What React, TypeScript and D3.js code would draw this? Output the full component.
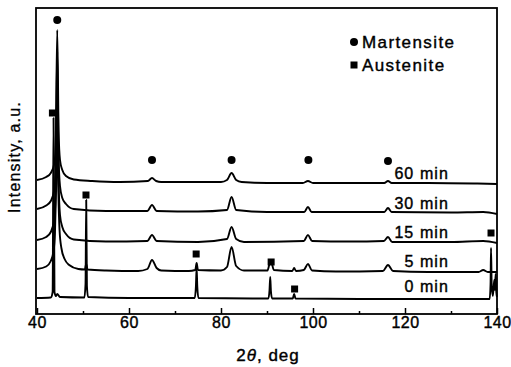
import React, { useEffect, useRef } from "react";
import * as d3 from "d3";

// XRD patterns, 2theta (deg) vs stacked intensity (a.u.)
const seriesNames = ["0 min", "5 min", "15 min", "30 min", "60 min"];

const min0: [number, number][] = [
  [40, 16], [43.0, 16.5], [43.4, 22], [43.6, 196], [43.8, 22], [44.1, 18], [44.4, 20], [45, 17],
  [50.3, 16.5], [50.55, 30], [50.7, 114], [50.85, 28], [51.1, 17], [60, 16],
  [74.3, 16], [74.55, 28], [74.7, 46], [74.85, 27], [75.1, 16],
  [90.3, 15.5], [90.55, 24], [90.7, 37], [90.85, 23], [91.1, 15.5],
  [95.6, 15.5], [95.9, 20], [96.2, 15.5], [110, 15], [130, 15], [138.4, 15],
  [138.6, 30], [138.7, 66], [138.85, 28], [139.1, 18], [139.4, 34], [139.55, 24], [139.7, 40],
  [139.85, 22], [140, 17],
];

const min5: [number, number][] = [
  [40, 45], [42, 47.5], [43, 53], [43.6, 63], [43.9, 80], [44.15, 125], [44.4, 200], [44.65, 122],
  [44.9, 84], [45.3, 66], [46, 55], [47, 49], [49, 45], [50.4, 44.5], [50.7, 50], [51, 44.5],
  [55, 43.5], [62, 43], [64.0, 45], [65, 54], [66.0, 46], [67, 43.5], [73, 43], [74.4, 44],
  [74.7, 51], [75, 44], [80, 43.5], [81.3, 47], [82.3, 67], [83.3, 48], [85, 43.5], [90.1, 43.5],
  [90.8, 54], [91.5, 44], [95.5, 43], [95.9, 46], [96.3, 43], [98.0, 44], [98.9, 50],
  [99.8, 43.5], [105, 42.5], [115.2, 43], [116.3, 49], [117.4, 43], [125, 42], [136, 42],
  [137, 44], [138, 42], [140, 42],
];

const min15: [number, number][] = [
  [40, 74], [42, 77], [43, 82], [43.8, 95], [44.1, 135], [44.4, 228], [44.7, 132], [45.0, 99],
  [45.5, 87], [46.3, 80], [48, 74.5], [55, 72.5], [64.0, 73], [65, 79], [66.0, 73], [75, 72],
  [81.3, 75], [82.3, 87], [83.3, 75], [85, 72], [98.0, 73], [98.9, 79], [99.8, 73], [108, 72.5],
  [115.4, 73], [116.3, 77], [117.2, 72], [130, 72], [137, 73], [140, 71],
];

const min30: [number, number][] = [
  [40, 105], [42, 108.5], [43, 113], [43.8, 125], [44.1, 160], [44.4, 262], [44.7, 156],
  [45.0, 128], [45.5, 116], [46.3, 110], [48, 105], [55, 103], [64.0, 103], [65, 109],
  [66.0, 103], [75, 102.5], [81.3, 104], [82.3, 117], [83.3, 104], [90, 102], [98.1, 102],
  [98.9, 107], [99.7, 102], [115.5, 102], [116.3, 106], [117.1, 102], [130, 101.5], [137, 102],
  [140, 100],
];

const min60: [number, number][] = [
  [40, 134], [42, 137], [43, 141], [43.8, 151], [44.1, 180], [44.4, 284], [44.7, 182],
  [45.0, 154], [45.5, 144], [46.3, 138], [48, 134.5], [52, 133], [58, 132], [64.1, 133],
  [65, 136], [65.9, 133], [67, 132], [80, 132], [81.3, 134], [82.3, 141], [83.3, 134],
  [84.5, 132], [90, 131], [97.8, 131], [98.9, 133], [100, 131], [110, 131], [115.5, 131],
  [116.3, 133], [117.1, 131], [125, 131], [135, 130.5], [140, 130],
];

const allSeries = [min0, min5, min15, min30, min60];

// phase markers [2theta, intensity]
const martensiteMarks: [number, number][] = [
  [44.4, 294], [65, 154], [82.3, 154], [99, 154], [116.3, 153],
];
const austeniteMarks: [number, number][] = [
  [43.35, 201], [50.65, 119], [74.6, 60], [90.9, 52], [96.0, 25], [138.7, 81],
];

const majorTicks = [40, 60, 80, 100, 120, 140];
const minorTicks = [50, 70, 90, 110, 130];

const W = 511;
const H = 367;
const FONT = "'Liberation Sans', Arial, Helvetica, sans-serif";

export default function App() {
  const ref = useRef<SVGSVGElement>(null);

  useEffect(() => {
    document.body.style.margin = "0";
    const svg = d3.select(ref.current);
    svg.selectAll("*").remove();

    const x = d3.scaleLinear().domain([40, 140]).range([37, 497]);
    const y = d3.scaleLinear().domain([0, 307]).range([314, 7]);

    // frame
    svg.append("rect")
      .attr("x", 36).attr("y", 8)
      .attr("width", 497 - 36).attr("height", 314 - 8)
      .attr("fill", "none").attr("stroke", "#000").attr("stroke-width", 1.8);

    // bottom axis, ticks pointing inward
    const major = svg.append("g")
      .attr("transform", "translate(0,314)")
      .call(d3.axisBottom(x).tickValues(majorTicks).tickSize(-6).tickPadding(3).tickFormat(d3.format("d")));
    major.select(".domain").remove();
    major.selectAll("line").attr("stroke-width", 1.5);
    major.selectAll("text")
      .attr("font-family", FONT).attr("font-size", 16)
      .attr("letter-spacing", 0.5).attr("fill", "#000")
      .attr("stroke", "#000").attr("stroke-width", 0.4);

    const minor = svg.append("g")
      .attr("transform", "translate(0,314)")
      .call(d3.axisBottom(x).tickValues(minorTicks).tickSize(-3).tickFormat(() => ""));
    minor.select(".domain").remove();
    minor.selectAll("line").attr("stroke-width", 1.5);

    // curves
    const line = d3.line<[number, number]>()
      .x(d => x(d[0]))
      .y(d => y(d[1]))
      .curve(d3.curveMonotoneX);

    svg.append("g")
      .selectAll("path")
      .data(allSeries)
      .join("path")
      .attr("d", d => line(d))
      .attr("fill", "none")
      .attr("stroke", "#000")
      .attr("stroke-width", 1.9)
      .attr("stroke-linejoin", "round");

    // series labels
    svg.append("g")
      .attr("stroke", "#000").attr("stroke-width", 0.4)
      .selectAll("text")
      .data(allSeries)
      .join("text")
      .attr("x", 449)
      .attr("y", d => y(d[d.length - 1][1]) - 5)
      .attr("text-anchor", "end")
      .attr("font-family", FONT)
      .attr("font-size", 16)
      .attr("letter-spacing", 1.1)
      .text((_, i) => seriesNames[i]);

    // phase markers
    svg.append("g")
      .selectAll("circle")
      .data(martensiteMarks)
      .join("circle")
      .attr("cx", d => x(d[0]))
      .attr("cy", d => y(d[1]))
      .attr("r", 4)
      .attr("fill", "#000");

    svg.append("g")
      .selectAll("rect")
      .data(austeniteMarks)
      .join("rect")
      .attr("x", d => x(d[0]) - 3.5)
      .attr("y", d => y(d[1]) - 3.5)
      .attr("width", 7)
      .attr("height", 7)
      .attr("fill", "#000");

    // legend
    const legend = svg.append("g").attr("font-family", FONT).attr("font-size", 17);
    legend.append("circle").attr("cx", 354).attr("cy", 42).attr("r", 4).attr("fill", "#000");
    legend.append("text").attr("x", 362).attr("y", 48).attr("letter-spacing", 1.4)
      .attr("stroke", "#000").attr("stroke-width", 0.4).text("Martensite");
    legend.append("rect").attr("x", 350.5).attr("y", 61.5).attr("width", 7).attr("height", 7).attr("fill", "#000");
    legend.append("text").attr("x", 362).attr("y", 71).attr("letter-spacing", 1.4)
      .attr("stroke", "#000").attr("stroke-width", 0.4).text("Austenite");

    // axis titles
    const xt = svg.append("text")
      .attr("x", 268).attr("y", 361)
      .attr("text-anchor", "middle")
      .attr("font-family", FONT).attr("font-size", 17)
      .attr("letter-spacing", 1)
      .attr("stroke", "#000").attr("stroke-width", 0.4);
    xt.append("tspan").text("2");
    xt.append("tspan").attr("font-style", "italic").text("θ");
    xt.append("tspan").text(", deg");

    svg.append("text")
      .attr("transform", "translate(20,157) rotate(-90)")
      .attr("text-anchor", "middle")
      .attr("font-family", FONT).attr("font-size", 16)
      .attr("letter-spacing", 1.2)
      .attr("stroke", "#000").attr("stroke-width", 0.3)
      .text("Intensity, a.u.");
  }, []);

  return (
    <svg
      ref={ref}
      width={W}
      height={H}
      style={{ display: "block", background: "#fff" }}
    />
  );
}
